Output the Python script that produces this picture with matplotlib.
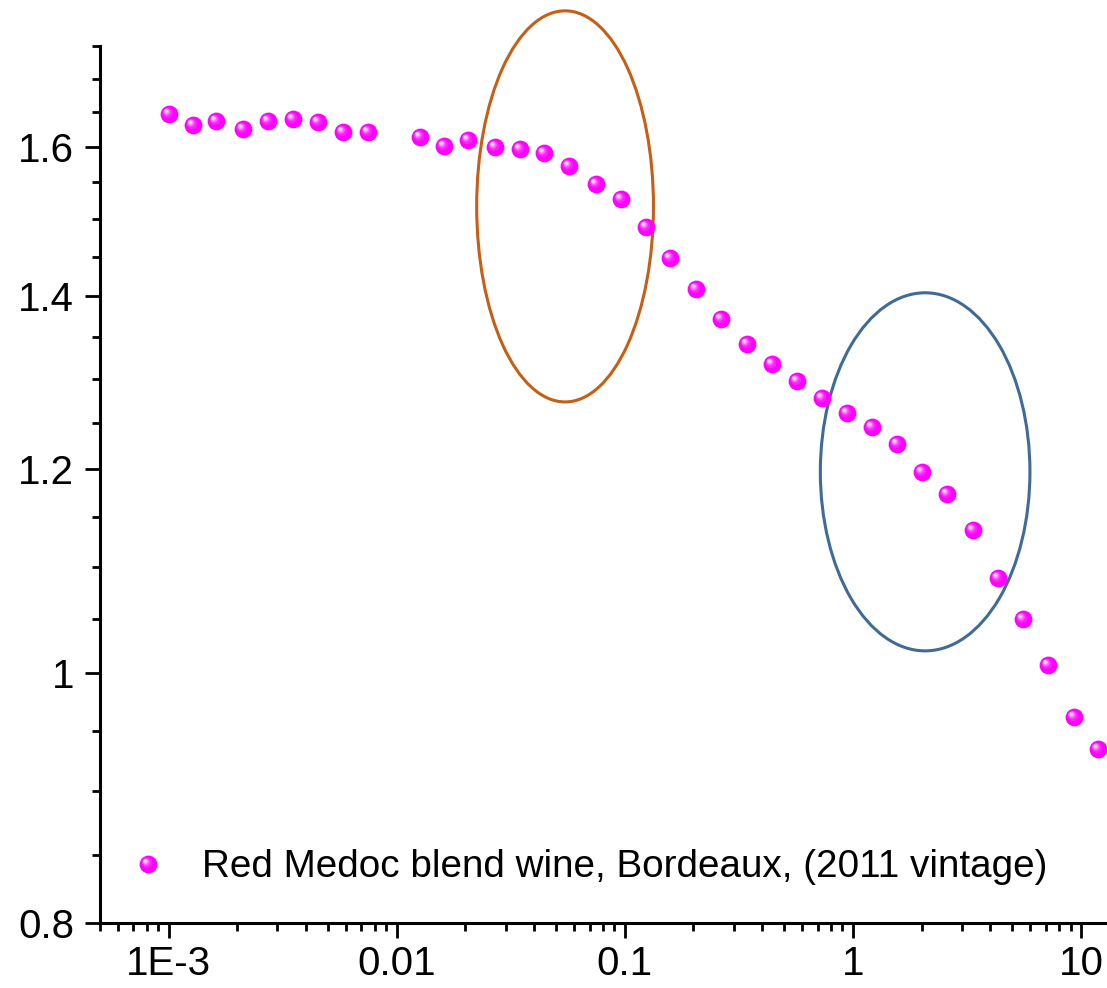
import numpy as np
import matplotlib
matplotlib.use("Agg")
import matplotlib.pyplot as plt
from matplotlib.path import Path
from matplotlib.patches import Ellipse
from matplotlib.legend_handler import HandlerTuple
from matplotlib.ticker import FixedLocator, FixedFormatter, LogLocator, NullFormatter

plt.rcParams["font.family"] = ["Liberation Sans", "DejaVu Sans"]

# Frequency sweep (x) and measured response (y), red Medoc blend, 2011 vintage
freq = [0.001, 0.001274, 0.001619, 0.00212, 0.002728, 0.003522, 0.004532,
        0.005793, 0.007507, 0.0126, 0.01617, 0.02055, 0.02692, 0.03482,
        0.04406, 0.0567, 0.07447, 0.09585, 0.1234, 0.1578, 0.2051, 0.2649,
        0.342, 0.4417, 0.5665, 0.7319, 0.9384, 1.208, 1.566, 2.009, 2.593,
        3.361, 4.326, 5.546, 7.166, 9.282, 11.91]
response = [1.648, 1.632, 1.637, 1.626, 1.637, 1.640, 1.636, 1.621, 1.621,
            1.614, 1.601, 1.609, 1.599, 1.597, 1.591, 1.573, 1.547, 1.527,
            1.490, 1.449, 1.409, 1.372, 1.342, 1.318, 1.298, 1.278, 1.262,
            1.246, 1.227, 1.197, 1.174, 1.136, 1.089, 1.050, 1.007, 0.962,
            0.935]
series_label = "Red Medoc blend wine, Bordeaux, (2011 vintage)"

x_ticks = [0.001, 0.01, 0.1, 1, 10]
x_tick_labels = ["1E-3", "0.01", "0.1", "1", "10"]
y_ticks = [0.8, 1.0, 1.2, 1.4, 1.6]
y_tick_labels = ["0.8", "1", "1.2", "1.4", "1.6"]
y_minor = [0.85, 0.9, 0.95, 1.05, 1.1, 1.15, 1.25, 1.3, 1.35, 1.45, 1.5,
           1.55, 1.65, 1.7, 1.75]

# Highlighted regions: centre (x, y) and size in decades (x, y)
regions = [
    {"center": (0.0547, 1.517), "size": (0.775, 0.1516), "color": "#C55F17"},
    {"center": (2.073, 1.197), "size": (0.919, 0.1388), "color": "#3F6B96"},
]

fig = plt.figure(figsize=(11.07, 9.88), dpi=100)
ax = fig.add_axes([100 / 1107, 64.7 / 988, 1007 / 1107, 877 / 988])
ax.set_xscale("log")
ax.set_yscale("log")
ax.set_xlim(5e-4, 13)
ax.set_ylim(0.8, 1.75)


def spot_marker(cx, cy, r):
    """Off-centre disc used to build the glossy highlight of a sphere marker."""
    circ = Path.circle((cx, cy), r)
    verts = np.vstack([circ.vertices, [[0.5, 0.5], [-0.5, -0.5]]])
    codes = np.concatenate([circ.codes, [Path.MOVETO, Path.MOVETO]])
    return Path(verts, codes)


ms = 12.8
layers = [
    dict(marker="o", color="#FF00FF"),
    dict(marker=spot_marker(-0.09, 0.09, 0.30), color="#FF1EFF"),
    dict(marker=spot_marker(-0.14, 0.14, 0.21), color="#FF5CFF"),
    dict(marker=spot_marker(-0.17, 0.17, 0.14), color="#FFA0FF"),
    dict(marker=spot_marker(-0.19, 0.19, 0.08), color="#FFE6FF"),
]
handles = []
for lay in layers:
    h, = ax.plot(freq, response, linestyle="none", marker=lay["marker"],
                 markersize=ms, markerfacecolor=lay["color"],
                 markeredgewidth=0, zorder=3)
    handles.append(h)

for reg in regions:
    cx, cy = reg["center"]
    w, h = reg["size"]
    ell = Ellipse((np.log10(cx), np.log10(cy)), w, h, fill=False,
                  edgecolor=reg["color"], linewidth=2.2,
                  transform=ax.transLimits + ax.transAxes, zorder=2,
                  clip_on=False)
    ax.add_patch(ell)

# axes styling
for side in ("top", "right"):
    ax.spines[side].set_visible(False)
for side in ("left", "bottom"):
    ax.spines[side].set_linewidth(2.2)

ax.xaxis.set_major_locator(FixedLocator(x_ticks))
ax.xaxis.set_major_formatter(FixedFormatter(x_tick_labels))
ax.xaxis.set_minor_locator(LogLocator(base=10, subs=np.arange(2, 10), numticks=20))
ax.xaxis.set_minor_formatter(NullFormatter())
ax.yaxis.set_major_locator(FixedLocator(y_ticks))
ax.yaxis.set_major_formatter(FixedFormatter(y_tick_labels))
ax.yaxis.set_minor_locator(FixedLocator(y_minor))
ax.yaxis.set_minor_formatter(NullFormatter())

ax.tick_params(which="major", direction="out", length=10.8, width=2.0,
               labelsize=29, color="black")
ax.tick_params(which="minor", direction="out", length=5.6, width=2.0)
ax.tick_params(axis="y", which="major", pad=8)
ax.tick_params(axis="x", which="major", pad=5)

ax.legend([tuple(handles)], [series_label],
          handler_map={tuple: HandlerTuple(ndivide=1, pad=0)},
          numpoints=1, loc="center left", bbox_to_anchor=(0.0245, 0.064),
          frameon=False, fontsize=27.8, handlelength=1.2, handletextpad=0.8,
          borderpad=0, borderaxespad=0)

fig.savefig("out.png", dpi=100)
